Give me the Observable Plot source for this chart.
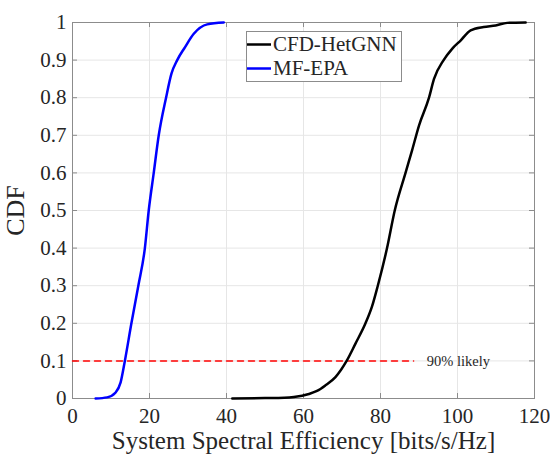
<!DOCTYPE html>
<html>
<head>
<meta charset="utf-8">
<script src="https://cdn.jsdelivr.net/npm/d3@7"></script>
<script src="https://cdn.jsdelivr.net/npm/@observablehq/plot@0.6"></script>
<style>
  html, body { margin: 0; padding: 0; background: #fff; }
</style>
</head>
<body>
<div id="chart"></div>
<script>
// ---- data ----
const seriesNames = ["CFD-HetGNN", "MF-EPA"];
const seriesColors = ["#000000", "#0000ff"];

const hetgnnX = [41.5, 50, 55, 57.5, 61.4, 63.5, 65.7, 68.3, 71.2, 73.5, 76.1, 77.8, 79.3, 81.7, 83.7, 86.5, 88.2, 90.0, 92.6, 93.9, 96.4, 98.6, 100.8, 103.4, 106.8, 109.9, 112.9, 117.7];
const hetgnnY = [0, 0.001, 0.002, 0.004, 0.012, 0.02, 0.035, 0.057, 0.1, 0.146, 0.2, 0.245, 0.3, 0.4, 0.5, 0.6, 0.66, 0.726, 0.8, 0.85, 0.9, 0.93, 0.952, 0.979, 0.988, 0.992, 0.999, 1];

const epaX = [6, 9, 11.2, 12.5, 13.6, 15.3, 17.1, 18.8, 19.8, 21.1, 22.4, 24.3, 25.7, 27.2, 29.2, 31.5, 35, 39.3];
const epaY = [0, 0.003, 0.016, 0.043, 0.1, 0.2, 0.3, 0.4, 0.5, 0.6, 0.7, 0.8, 0.864, 0.9, 0.934, 0.97, 0.995, 1];

const likelyX = [0, 88.6];
const likelyY = 0.1;
const likelyLabel = "90% likely";
const likelyLabelX = 92;

const xTicks = [0, 20, 40, 60, 80, 100, 120];
const yTicks = [0, 0.1, 0.2, 0.3, 0.4, 0.5, 0.6, 0.7, 0.8, 0.9, 1];
const xLabel = "System Spectral Efficiency [bits/s/Hz]";
const yLabel = "CDF";

// ---- build tables ----
const hetgnn = hetgnnX.map((x, i) => ({x, y: hetgnnY[i]}));
const epa = epaX.map((x, i) => ({x, y: epaY[i]}));
const likely = likelyX.map(x => ({x, y: likelyY}));

const W = 550, H = 456, mL = 72, mR = 16, mT = 22, mB = 58;
const plotW = W - mL - mR, plotH = H - mT - mB;
const tickLen = 5;
const axisColor = "#262626";
const frameColor = "#8c8c8c";
const serif = "'Liberation Serif', 'Times New Roman', serif";

const chart = Plot.plot({
  width: W, height: H,
  marginLeft: mL, marginRight: mR, marginTop: mT, marginBottom: mB,
  x: {domain: [0, 120]},
  y: {domain: [0, 1]},
  style: {background: "#fff", color: axisColor, fontFamily: serif},
  marks: [
    Plot.gridX(xTicks, {stroke: "#e6e6e6", strokeOpacity: 1}),
    Plot.gridY(yTicks, {stroke: "#e6e6e6", strokeOpacity: 1}),
    Plot.tickX(xTicks, {x: d => d, stroke: frameColor, insetTop: plotH - tickLen}),
    Plot.tickX(xTicks, {x: d => d, stroke: frameColor, insetBottom: plotH - tickLen}),
    Plot.tickY(yTicks, {y: d => d, stroke: frameColor, insetRight: plotW - tickLen}),
    Plot.tickY(yTicks, {y: d => d, stroke: frameColor, insetLeft: plotW - tickLen}),
    Plot.frame({stroke: frameColor}),
    Plot.axisX({ticks: xTicks, tickSize: 0, tickPadding: 10, fontSize: 21, label: null, tickFormat: d => String(d)}),
    Plot.axisY({ticks: yTicks, tickSize: 0, tickPadding: 6, fontSize: 21, label: null, tickFormat: d => String(d)}),
    Plot.axisX({ticks: [], tickSize: 0, label: xLabel, labelAnchor: "center", labelArrow: "none", labelOffset: 50, fontSize: 25}),
    Plot.axisY({ticks: [], tickSize: 0, label: yLabel, labelAnchor: "center", labelArrow: "none", labelOffset: 67, fontSize: 26}),
    Plot.line(likely, {x: "x", y: "y", stroke: "#ff0000", strokeWidth: 1.5, strokeDasharray: "6,5"}),
    Plot.text([likelyLabel], {x: likelyLabelX, y: likelyY, text: d => d, textAnchor: "start", fontSize: 14.5, fill: axisColor}),
    Plot.line(epa, {x: "x", y: "y", stroke: seriesColors[1], strokeWidth: 2.5, curve: "monotone-x"}),
    Plot.line(hetgnn, {x: "x", y: "y", stroke: seriesColors[0], strokeWidth: 2.5, curve: "monotone-x"})
  ]
});
document.getElementById("chart").appendChild(chart);

// ---- legend (inside plot area, top-center) ----
const svg = d3.select(chart);
const lg = svg.append("g").attr("class", "legend")
  .attr("font-family", serif).attr("text-anchor", "start");
const lx = 246, ly = 31, lw = 155, lh = 50;
lg.append("rect").attr("x", lx + 0.5).attr("y", ly + 0.5).attr("width", lw).attr("height", lh)
  .attr("fill", "#fff").attr("stroke", frameColor);
seriesNames.forEach((name, i) => {
  const cy = ly + 13.5 + i * 24;
  lg.append("line").attr("x1", lx + 1).attr("x2", lx + 25).attr("y1", cy).attr("y2", cy)
    .attr("stroke", seriesColors[i]).attr("stroke-width", 2.5);
  lg.append("text").attr("x", lx + 27).attr("y", cy).attr("dy", "0.33em")
    .attr("text-anchor", "start").attr("font-size", 21).attr("fill", axisColor).text(name);
});
</script>
</body>
</html>
